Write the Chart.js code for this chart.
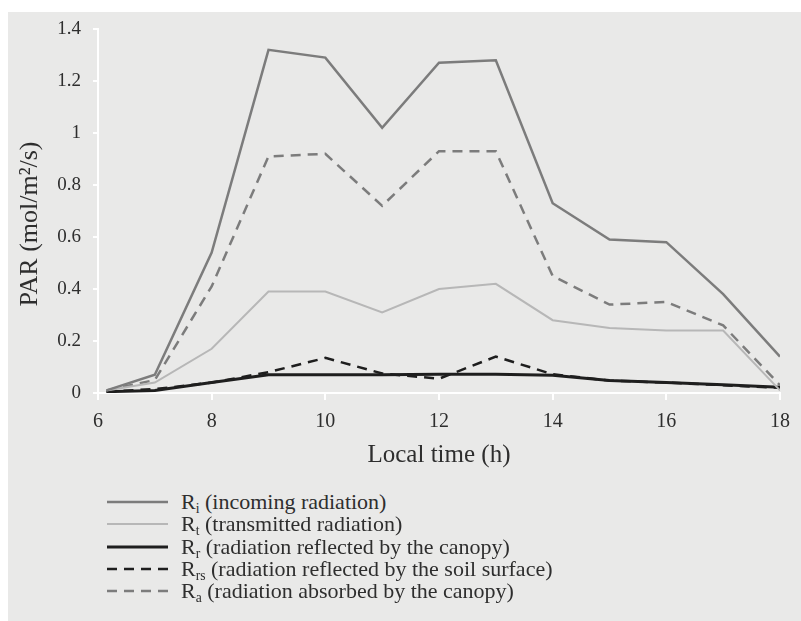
<!DOCTYPE html>
<html>
<head>
<meta charset="utf-8">
<script src="https://cdn.jsdelivr.net/npm/chart.js@4.4.1/dist/chart.umd.min.js"></script>
<style>
  body { margin: 0; background: #fff; }
  #page { position: absolute; left: 8px; top: 12px; width: 793px; height: 609px; background: #e9e9e8; overflow: hidden; }
  #chart { position: absolute; left: 0; top: 0; }
  #legend { position: absolute; left: 99px; top: 0; }
  .row { position: absolute; left: 0; height: 22px; display: flex; align-items: center; white-space: nowrap;
         font-family: "Liberation Serif", "DejaVu Serif", serif; font-size: 22px; color: #2e2e2e; }
  .row canvas { margin-right: 13px; }
  .row sub { font-size: 0.62em; vertical-align: -0.3em; line-height: 0; }
</style>
</head>
<body>
<div id="page">
  <canvas id="chart" width="793" height="458"></canvas>
  <div id="legend"></div>
</div>
<script>
// data
const hours = [6.15, 7, 8, 9, 10, 11, 12, 13, 14, 15, 16, 17, 18];
const incoming = [0.01, 0.07, 0.54, 1.32, 1.29, 1.02, 1.27, 1.28, 0.73, 0.59, 0.58, 0.38, 0.14];
const transmitted = [0.01, 0.04, 0.17, 0.39, 0.39, 0.31, 0.40, 0.42, 0.28, 0.25, 0.24, 0.24, 0.01];
const reflectedCanopy = [0.005, 0.01, 0.04, 0.07, 0.07, 0.07, 0.072, 0.072, 0.068, 0.048, 0.04, 0.032, 0.022];
const reflectedSoil = [0.005, 0.015, 0.04, 0.08, 0.135, 0.075, 0.055, 0.14, 0.072, 0.048, 0.04, 0.03, 0.02];
const absorbed = [0.01, 0.05, 0.41, 0.91, 0.92, 0.72, 0.93, 0.93, 0.45, 0.34, 0.35, 0.26, 0.03];

const xTicks = [6, 8, 10, 12, 14, 16, 18];
const yTicks = [0, 0.2, 0.4, 0.6, 0.8, 1, 1.2, 1.4];
const yTickLabels = ['0', '0.2', '0.4', '0.6', '0.8', '1', '1.2', '1.4'];

const seriesNames = ['Ri', 'Rt', 'Rr', 'Rrs', 'Ra'];
const seriesSubs = ['i', 't', 'r', 'rs', 'a'];
const seriesDesc = ['(incoming radiation)', '(transmitted radiation)', '(radiation reflected by the canopy)',
                    '(radiation reflected by the soil surface)', '(radiation absorbed by the canopy)'];

const textColor = '#2e2e2e';
const serif = '"Liberation Serif", "DejaVu Serif", serif';

function pts(values) {
    return values.map((v, i) => ({ x: hours[i], y: v }));
}

const datasets = [
    { label: seriesNames[0], data: pts(incoming), borderColor: '#7c7c7c', borderWidth: 2.5, borderDash: [] },
    { label: seriesNames[1], data: pts(transmitted), borderColor: '#b7b7b7', borderWidth: 2, borderDash: [] },
    { label: seriesNames[2], data: pts(reflectedCanopy), borderColor: '#1e1e1e', borderWidth: 3, borderDash: [] },
    { label: seriesNames[3], data: pts(reflectedSoil), borderColor: '#1e1e1e', borderWidth: 2.5, borderDash: [10, 7] },
    { label: seriesNames[4], data: pts(absorbed), borderColor: '#7c7c7c', borderWidth: 2.5, borderDash: [10, 7] }
];

const chart = new Chart(document.getElementById('chart'), {
    type: 'line',
    data: { datasets: datasets },
    options: {
        responsive: false,
        animation: false,
        layout: { padding: { top: 17, right: 21, left: 0, bottom: 0 } },
        elements: { point: { radius: 0 }, line: { tension: 0, borderCapStyle: 'butt' } },
        plugins: { legend: { display: false }, tooltip: { enabled: false } },
        scales: {
            x: {
                type: 'linear', min: 6, max: 18,
                afterBuildTicks: s => { s.ticks = xTicks.map(v => ({ value: v })); },
                afterFit: s => { s.height = 77; },
                ticks: { color: textColor, font: { family: serif, size: 20 }, padding: 10, maxRotation: 0 },
                grid: { drawOnChartArea: false, color: '#fff', tickColor: '#fff', tickLength: 7, lineWidth: 2 },
                border: { color: '#fff', width: 2 },
                title: { display: true, text: 'Local time (h)', color: textColor,
                         font: { family: serif, size: 25 }, padding: { top: 0, bottom: 0 } }
            },
            y: {
                min: 0, max: 1.4,
                afterBuildTicks: s => { s.ticks = yTicks.map(v => ({ value: v })); },
                // fixed width; drop the label overflow so the plot top follows layout padding
                afterFit: s => { s.width = 90; s.paddingTop = 0; s.paddingBottom = 0; },
                ticks: { color: textColor, font: { family: serif, size: 19 }, padding: 12,
                         callback: (v, i) => yTickLabels[i] },
                grid: { drawOnChartArea: false, color: '#fff', tickColor: '#fff', tickLength: 5, lineWidth: 2 },
                border: { color: '#fff', width: 2 },
                title: { display: true, text: 'PAR (mol/m²/s)    ', color: textColor,
                         font: { family: serif, size: 26 }, padding: { top: 7, bottom: 0 } }
            }
        }
    }
});

// legend below the plot, with subscripts
const legend = document.getElementById('legend');
chart.data.datasets.forEach((ds, i) => {
    const row = document.createElement('div');
    row.className = 'row';
    row.style.top = (479 + i * 22.3) + 'px';

    const sample = document.createElement('canvas');
    sample.width = 61;
    sample.height = 10;
    const ctx = sample.getContext('2d');
    ctx.strokeStyle = ds.borderColor;
    ctx.lineWidth = ds.borderWidth;
    ctx.setLineDash(ds.borderDash);
    ctx.beginPath();
    ctx.moveTo(0, 5);
    ctx.lineTo(61, 5);
    ctx.stroke();

    const label = document.createElement('span');
    label.innerHTML = 'R<sub>' + seriesSubs[i] + '</sub> ' + seriesDesc[i];

    row.appendChild(sample);
    row.appendChild(label);
    legend.appendChild(row);
});
</script>
</body>
</html>
